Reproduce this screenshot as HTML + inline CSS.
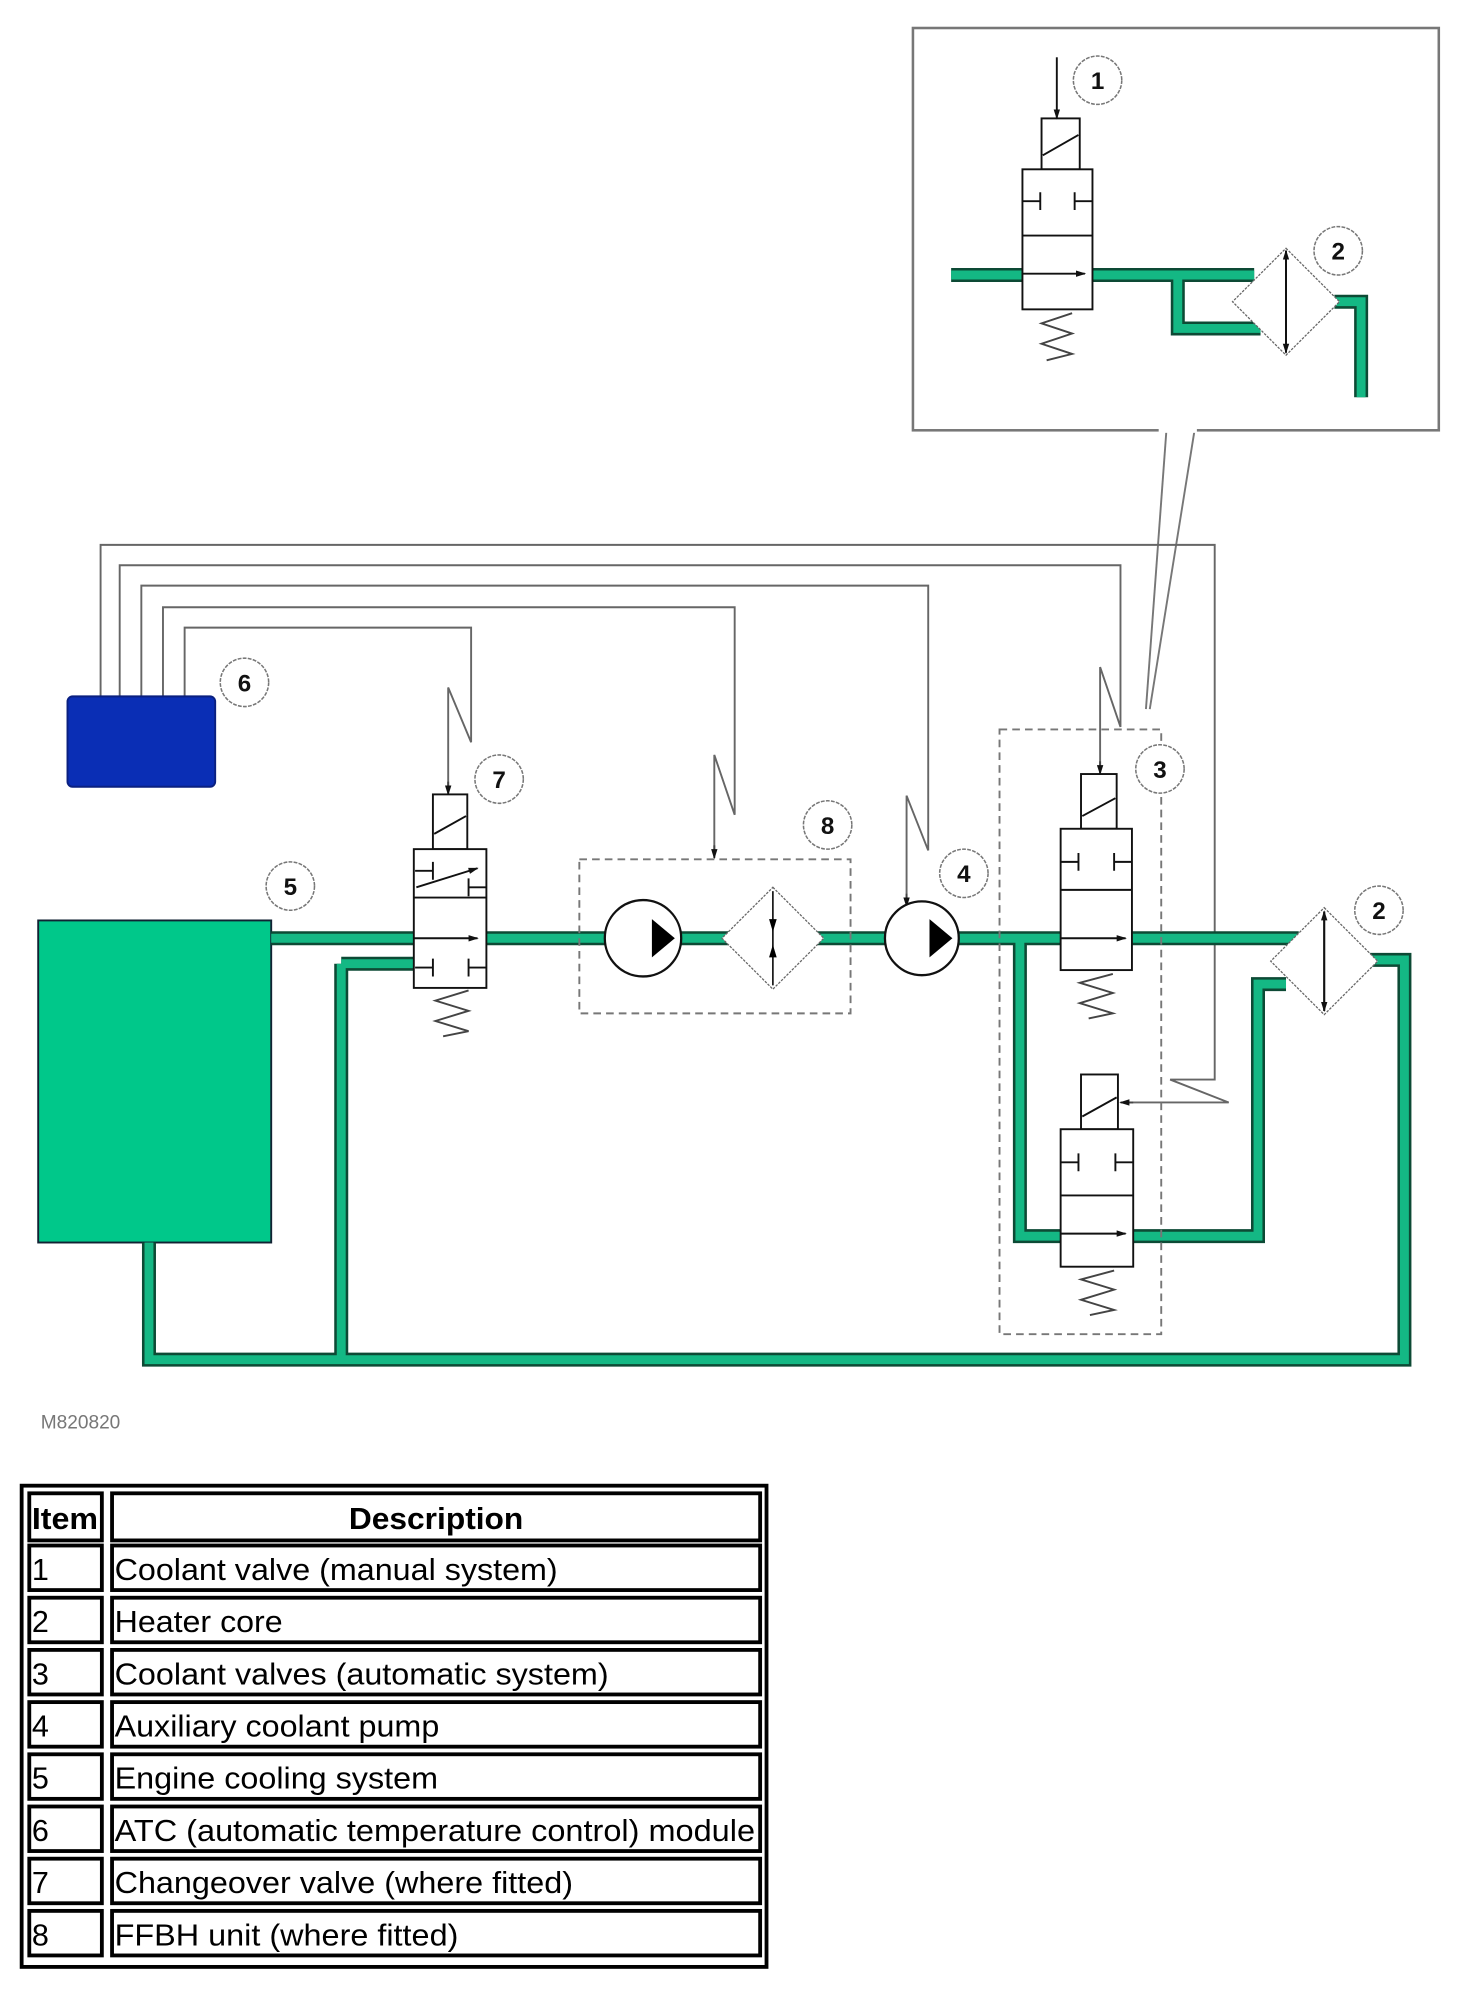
<!DOCTYPE html>
<html><head><meta charset="utf-8"><style>
html,body{margin:0;padding:0;background:#fff;}
svg{display:block;}
text{font-family:"Liberation Sans",Arial,sans-serif;}
</style></head><body>
<svg width="1477" height="2000" viewBox="0 0 1160 1571" preserveAspectRatio="none" xmlns="http://www.w3.org/2000/svg">
<defs>
<marker id="ah" markerWidth="8" markerHeight="8" refX="7" refY="4" orient="auto" markerUnits="userSpaceOnUse"><path d="M0,1.5 L8,4 L0,6.5 Z" fill="#111"/></marker>
</defs>
<rect width="1160" height="1571" fill="#fff"/>

<!-- inset box -->
<rect x="717" y="22" width="413" height="316" fill="none" stroke="#777" stroke-width="2"/>
<line x1="916" y1="339" x2="900" y2="557" stroke="#777" stroke-width="1.5"/>
<line x1="938" y1="339" x2="903" y2="557" stroke="#777" stroke-width="1.5"/>
<rect x="910" y="336" width="30" height="4" fill="#fff"/>

<!-- inset pipes -->
<g fill="none" stroke-linejoin="miter">
<path d="M747,216 H985 M925,216 V258 H990 M1048,237 H1069 V312" stroke="#0d4a35" stroke-width="11"/>
<path d="M747,216 H985 M925,216 V258 H990 M1048,237 H1069 V312" stroke="#14b884" stroke-width="7"/>
</g>
<!-- inset valve 1 -->
<g stroke="#111" stroke-width="1.5" fill="#fff">
<rect x="818" y="93" width="30" height="40"/>
<line x1="819" y1="122" x2="847" y2="106"/>
<rect x="803" y="133" width="55" height="110"/>
<line x1="803" y1="185" x2="858" y2="185"/>
<line x1="803" y1="215" x2="852" y2="215" marker-end="url(#ah)"/>
<path d="M803,158 H817 M817,151 V165 M858,158 H844 M844,151 V165" fill="none"/>
<path d="M842,246 L818,254 L842,262 L818,270 L842,278 L822,283" fill="none" stroke="#444"/>
<line x1="830" y1="45" x2="830" y2="93" marker-end="url(#ah)"/>
</g>
<polygon points="1010,195 1052,237 1010,279 968,237" fill="#fff" stroke="#666" stroke-width="1" stroke-dasharray="2,1"/>
<line x1="1010" y1="197" x2="1010" y2="277" stroke="#111" stroke-width="1.5" marker-end="url(#ah)"/>
<line x1="1010" y1="277" x2="1010" y2="197" stroke="#111" stroke-width="1.5" marker-end="url(#ah)"/>

<!-- wires -->
<g fill="none" stroke="#666" stroke-width="1.5">
<path d="M79,547 V428 H954 V848 H919 L965,866 H885"/>
<path d="M94,547 V444 H880 V571 L864,524 V606"/>
<path d="M111,547 V460 H729 V668 L712,625 V710"/>
<path d="M128,547 V477 H577 V640 L561,593 V672"/>
<path d="M145,547 V493 H370 V583 L352,540 V622"/>
</g>
<g stroke="#444" stroke-width="1.5">
<line x1="864" y1="598" x2="864" y2="608" marker-end="url(#ah)"/>
<line x1="712" y1="702" x2="712" y2="712" marker-end="url(#ah)"/>
<line x1="561" y1="664" x2="561" y2="674" marker-end="url(#ah)"/>
<line x1="352" y1="614" x2="352" y2="624" marker-end="url(#ah)"/>
<line x1="890" y1="866" x2="880" y2="866" marker-end="url(#ah)"/>
</g>

<!-- module 6 -->
<rect x="53" y="547" width="116" height="71" rx="4" fill="#0a2eb5" stroke="#0a2080" stroke-width="1.5"/>
<!-- engine 5 -->
<rect x="30" y="723" width="183" height="253" fill="#00c88a" stroke="#123" stroke-width="1.5"/>

<!-- main pipes -->
<g fill="none">
<path d="M213,737 H1020 M801,737 V971 H988 V773 H1010 M1070,754 H1103 V1068 H117 V976 M268,757 H330 M268,757 V1068" stroke="#0d4a35" stroke-width="11"/>
<path d="M213,737 H1020 M801,737 V971 H988 V773 H1010 M1070,754 H1103 V1068 H117 V976 M268,757 H330 M268,757 V1068" stroke="#14b884" stroke-width="7"/>
</g>

<!-- dashed boxes -->
<rect x="455" y="675" width="213" height="121" fill="none" stroke="#777" stroke-width="1.5" stroke-dasharray="6,4"/>
<rect x="785" y="573" width="127" height="475" fill="none" stroke="#777" stroke-width="1.5" stroke-dasharray="6,4"/>

<!-- valve 7 -->
<g stroke="#111" stroke-width="1.5" fill="#fff">
<rect x="340" y="624" width="27" height="43"/>
<line x1="341" y1="655" x2="366" y2="641"/>
<rect x="325" y="667" width="57" height="109"/>
<line x1="325" y1="705" x2="382" y2="705"/>
<line x1="327" y1="697" x2="375" y2="682" marker-end="url(#ah)"/>
<line x1="325" y1="737" x2="375" y2="737" marker-end="url(#ah)"/>
<path d="M326,684 H340 M340,677 V691 M382,697 H368 M368,690 V704 M326,760 H340 M340,753 V767 M382,760 H368 M368,753 V767" fill="none"/>
<path d="M368,778 L342,786 L368,794 L342,802 L368,810 L348,814" fill="none" stroke="#444"/>
</g>

<!-- FFBH pump + heater -->
<circle cx="505" cy="737" r="30" fill="#fff" stroke="#111" stroke-width="1.8"/>
<polygon points="512,722 530,737 512,752" fill="#000"/>
<polygon points="607,697 647,737 607,777 567,737" fill="#fff" stroke="#666" stroke-width="1" stroke-dasharray="2,1"/>
<line x1="607" y1="700" x2="607" y2="774" stroke="#111" stroke-width="1.3"/>
<polygon points="604,722 610,722 607,732" fill="#000"/><polygon points="604,752 610,752 607,742" fill="#000"/>

<!-- pump 4 -->
<circle cx="724" cy="737" r="29" fill="#fff" stroke="#111" stroke-width="1.8"/>
<polygon points="730,722 748,737 730,752" fill="#000"/>

<!-- heater 2 main -->
<polygon points="1040,713 1082,755 1040,797 998,755" fill="#fff" stroke="#666" stroke-width="1" stroke-dasharray="2,1"/>
<line x1="1040" y1="716" x2="1040" y2="794" stroke="#111" stroke-width="1.5" marker-end="url(#ah)"/>
<line x1="1040" y1="794" x2="1040" y2="716" stroke="#111" stroke-width="1.5" marker-end="url(#ah)"/>

<!-- valve 3 upper -->
<g stroke="#111" stroke-width="1.5" fill="#fff">
<rect x="849" y="608" width="28" height="43"/>
<line x1="850" y1="641" x2="876" y2="627"/>
<rect x="833" y="651" width="56" height="111"/>
<line x1="833" y1="699" x2="889" y2="699"/>
<line x1="833" y1="737" x2="884" y2="737" marker-end="url(#ah)"/>
<path d="M833,677 H847 M847,670 V684 M889,677 H875 M875,670 V684" fill="none"/>
<path d="M874,765 L848,772 L874,780 L848,788 L874,796 L855,800" fill="none" stroke="#444"/>
</g>
<!-- valve 3 lower -->
<g stroke="#111" stroke-width="1.5" fill="#fff">
<rect x="849" y="844" width="29" height="43"/>
<line x1="850" y1="877" x2="877" y2="862"/>
<rect x="833" y="887" width="57" height="108"/>
<line x1="833" y1="939" x2="890" y2="939"/>
<line x1="833" y1="969" x2="884" y2="969" marker-end="url(#ah)"/>
<path d="M833,913 H847 M847,906 V920 M890,913 H876 M876,906 V920" fill="none"/>
<path d="M875,998 L849,1005 L875,1013 L849,1021 L875,1029 L856,1033" fill="none" stroke="#444"/>
</g>

<!-- labels -->
<g font-weight="bold" font-size="19" text-anchor="middle" fill="#111">
<g fill="#fff" stroke="#777" stroke-width="1.2" stroke-dasharray="3,1">
<circle cx="862" cy="63" r="19"/><circle cx="1051" cy="197" r="19"/>
<circle cx="192" cy="536" r="19"/><circle cx="392" cy="612" r="19"/>
<circle cx="228" cy="696" r="19"/><circle cx="650" cy="648" r="19"/>
<circle cx="757" cy="686" r="19"/><circle cx="911" cy="604" r="19"/>
<circle cx="1083" cy="715" r="19"/>
</g>
<text x="862" y="70">1</text><text x="1051" y="204">2</text>
<text x="192" y="543">6</text><text x="392" y="619">7</text>
<text x="228" y="703">5</text><text x="650" y="655">8</text>
<text x="757" y="693">4</text><text x="911" y="611">3</text>
<text x="1083" y="722">2</text>
</g>

<text x="32" y="1122" font-size="15" fill="#777">M820820</text>

<!-- table -->
<g fill="none" stroke="#000">
<rect x="17" y="1167" width="585" height="378" stroke-width="3"/>
<g stroke-width="3">
<rect x="23" y="1173" width="57" height="37"/><rect x="88" y="1173" width="509" height="37"/>
<rect x="23" y="1214" width="57" height="35"/><rect x="88" y="1214" width="509" height="35"/>
<rect x="23" y="1255" width="57" height="35"/><rect x="88" y="1255" width="509" height="35"/>
<rect x="23" y="1296" width="57" height="35"/><rect x="88" y="1296" width="509" height="35"/>
<rect x="23" y="1337" width="57" height="35"/><rect x="88" y="1337" width="509" height="35"/>
<rect x="23" y="1378" width="57" height="35"/><rect x="88" y="1378" width="509" height="35"/>
<rect x="23" y="1419" width="57" height="35"/><rect x="88" y="1419" width="509" height="35"/>
<rect x="23" y="1460" width="57" height="35"/><rect x="88" y="1460" width="509" height="35"/>
<rect x="23" y="1501" width="57" height="35"/><rect x="88" y="1501" width="509" height="35"/>
</g>
</g>
<g font-size="24" fill="#000" lengthAdjust="spacingAndGlyphs">
<text x="25" y="1201" font-weight="bold" textLength="52" lengthAdjust="spacingAndGlyphs">Item</text>
<text x="274" y="1201" font-weight="bold" textLength="137" lengthAdjust="spacingAndGlyphs">Description</text>
<text x="25" y="1241">1</text><text x="90" y="1241" textLength="348" lengthAdjust="spacingAndGlyphs">Coolant valve (manual system)</text>
<text x="25" y="1282">2</text><text x="90" y="1282" textLength="132" lengthAdjust="spacingAndGlyphs">Heater core</text>
<text x="25" y="1323">3</text><text x="90" y="1323" textLength="388" lengthAdjust="spacingAndGlyphs">Coolant valves (automatic system)</text>
<text x="25" y="1364">4</text><text x="90" y="1364" textLength="255" lengthAdjust="spacingAndGlyphs">Auxiliary coolant pump</text>
<text x="25" y="1405">5</text><text x="90" y="1405" textLength="254" lengthAdjust="spacingAndGlyphs">Engine cooling system</text>
<text x="25" y="1446">6</text><text x="90" y="1446" textLength="503" lengthAdjust="spacingAndGlyphs">ATC (automatic temperature control) module</text>
<text x="25" y="1487">7</text><text x="90" y="1487" textLength="360" lengthAdjust="spacingAndGlyphs">Changeover valve (where fitted)</text>
<text x="25" y="1528">8</text><text x="90" y="1528" textLength="270" lengthAdjust="spacingAndGlyphs">FFBH unit (where fitted)</text>
</g>
</svg>
</body></html>
